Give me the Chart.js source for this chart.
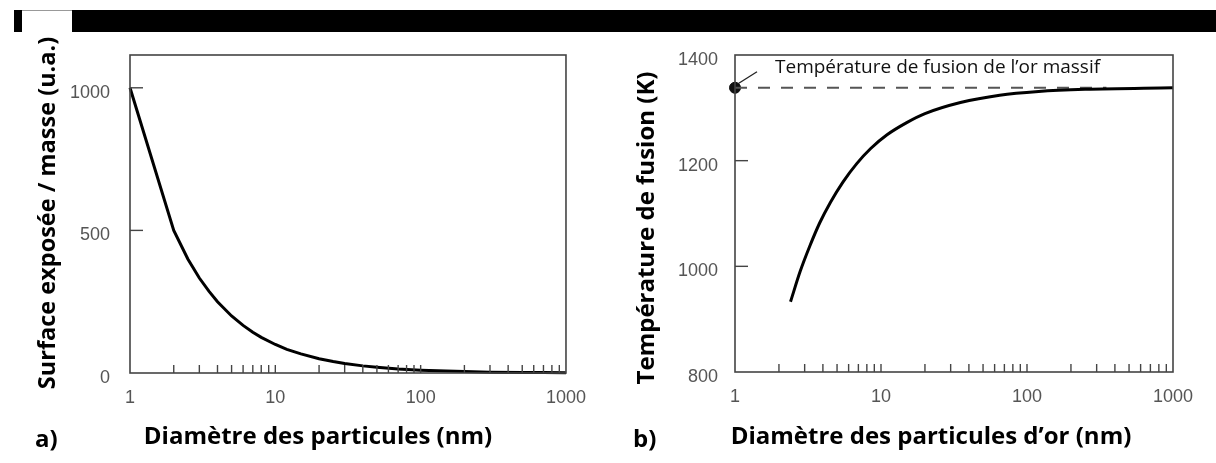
<!DOCTYPE html>
<html><head><meta charset="utf-8">
<script src="https://cdn.jsdelivr.net/npm/chart.js@4"></script>
<style>
html,body{margin:0;padding:0;background:#fff;width:1216px;height:463px;overflow:hidden;position:relative}
#c1{position:absolute;left:0;top:0}
#c2{position:absolute;left:600px;top:0}
.bar{position:absolute;background:#000}
</style></head><body>
<canvas id="c1" width="600" height="463"></canvas>
<canvas id="c2" width="616" height="463"></canvas>
<div class="bar" style="left:14px;top:10px;width:8px;height:22px"></div>
<div style="position:absolute;left:22px;top:10px;width:50px;height:1px;background:#999"></div>
<div class="bar" style="left:72px;top:10px;width:1144px;height:22px"></div>
<script>
// ---- Data: chart a) ----
const diamA = [1, 2, 2.5, 3, 3.5, 4, 5, 6, 7, 8, 10, 12, 15, 20, 25, 30, 40, 50, 70, 100, 150, 200, 300, 500, 700, 1000];
const surfA = [1000, 500, 400, 333, 286, 250, 200, 167, 143, 125, 100, 83, 67, 50, 40, 33, 25, 20, 14, 10, 7, 5, 3, 2, 1.4, 1];
const yTicksA = [0, 500, 1000];

// ---- Data: chart b) ----
const diamB = [2.4, 2.8, 3.25, 3.8, 4.5, 5.5, 6.8, 8.5, 11, 15, 20, 35, 65, 120, 250, 1000];
const tempB = [933, 991, 1038, 1082, 1121, 1160, 1194, 1223, 1249, 1272, 1289, 1310, 1324, 1331, 1335, 1338];
const bulkDiam = [1, 350];
const bulkTemp = [1338, 1338];
const yTicksB = [800, 1000, 1200, 1400];

// ---- shared ----
const xTicks = [1, 10, 100, 1000];
const minorTicks = [2,3,4,5,6,7,8,9,10,20,30,40,50,60,70,80,90,100,200,300,400,500,600,700,800,900];

const tickFont = {family: '"Liberation Sans", Arial, sans-serif', size: 18};
const tickColor = '#555';

function pts(xs, ys){ return xs.map((x,i)=>({x, y: ys[i]})); }

function decorPlugin(opts){
  return {
    id: 'decor',
    afterDatasetsDraw(chart){
      const ctx = chart.ctx, a = chart.chartArea;
      const xs = chart.scales.x, ys = chart.scales.y;
      ctx.save();
      // frame
      ctx.strokeStyle = '#444'; ctx.lineWidth = 1.6;
      ctx.strokeRect(a.left, a.top, a.right - a.left, a.bottom - a.top);
      // inward y ticks
      ctx.lineWidth = 1.4;
      opts.innerY.forEach(v=>{
        const y = ys.getPixelForValue(v);
        ctx.beginPath(); ctx.moveTo(a.left, y); ctx.lineTo(a.left + 13, y); ctx.stroke();
      });
      // minor x ticks
      minorTicks.forEach(v=>{
        const x = xs.getPixelForValue(v);
        ctx.beginPath(); ctx.moveTo(x, a.bottom); ctx.lineTo(x, a.bottom - 8); ctx.stroke();
      });
      // titles
      ctx.fillStyle = '#000';
      ctx.textBaseline = 'middle';
      ctx.textAlign = 'center';
      ctx.save();
      ctx.font = opts.yTitle.font;
      ctx.translate(opts.yTitle.x, opts.yTitle.y);
      ctx.rotate(-Math.PI/2);
      ctx.fillText(opts.yTitle.text, 0, 0);
      ctx.restore();
      ctx.font = 'bold 24px "Open Sans", sans-serif';
      ctx.fillText(opts.xTitle.text, opts.xTitle.x, opts.xTitle.y);
      ctx.textAlign = 'left';
      ctx.fillText(opts.panel.text, opts.panel.x, opts.panel.y);
      if (opts.extra) opts.extra(chart, ctx);
      ctx.restore();
    }
  };
}

function baseScales(xHeight, yWidth, yMin, yMax, yTicks, labelOffset, yPad){
  return {
    x: {
      type: 'logarithmic', min: 1, max: 1000,
      afterBuildTicks: s => { s.ticks = xTicks.map(v=>({value: v})); },
      afterFit: s => { s.height = xHeight; },
      grid: {display: false, drawTicks: false}, border: {display: false},
      ticks: {font: tickFont, color: tickColor, padding: 14, autoSkip: false, maxRotation: 0, callback: v => String(v)}
    },
    y: {
      type: 'linear', min: yMin, max: yMax,
      afterBuildTicks: s => { s.ticks = yTicks.map(v=>({value: v})); },
      afterFit: s => { s.width = yWidth; },
      grid: {display: false, drawTicks: false}, border: {display: false},
      ticks: {font: tickFont, color: tickColor, padding: yPad, labelOffset: labelOffset, autoSkip: false, callback: v => String(v)}
    }
  };
}

new Chart(document.getElementById('c1'), {
  type: 'line',
  data: {datasets: [{
    data: pts(diamA, surfA), borderColor: '#000', borderWidth: 3,
    pointRadius: 0, tension: 0, fill: false, clip: false
  }]},
  options: {
    responsive: false, animation: false, devicePixelRatio: 1,
    layout: {padding: {left: 0, right: 34, top: 55, bottom: 0}},
    plugins: {legend: {display: false}, tooltip: {enabled: false}},
    scales: baseScales(90, 130, 0, 1115, yTicksA, 5, 20)
  },
  plugins: [decorPlugin({
    innerY: [500, 1000],
    yTitle: {text: 'Surface exposée / masse (u.a.)', x: 48, y: 213, font: 'bold 23.5px "Open Sans", sans-serif'},
    xTitle: {text: 'Diamètre des particules (nm)', x: 318, y: 437},
    panel: {text: 'a)', x: 35, y: 440}
  })]
});

new Chart(document.getElementById('c2'), {
  type: 'line',
  data: {datasets: [
    {data: pts(diamB, tempB), borderColor: '#000', borderWidth: 3, pointRadius: 0,
     cubicInterpolationMode: 'monotone', fill: false, clip: false},
    {data: pts(bulkDiam, bulkTemp), borderColor: '#555', borderWidth: 2, borderDash: [12, 11],
     pointRadius: 0, fill: false, clip: false},
    {data: pts([bulkDiam[0]], [bulkTemp[0]]), showLine: false, pointRadius: 5.5,
     pointBackgroundColor: '#111', pointBorderColor: '#111', clip: false}
  ]},
  options: {
    responsive: false, animation: false, devicePixelRatio: 1,
    layout: {padding: {left: 0, right: 43, top: 55, bottom: 0}},
    plugins: {legend: {display: false}, tooltip: {enabled: false}},
    scales: baseScales(91, 135, 800, 1400, yTicksB, 5, 17)
  },
  plugins: [decorPlugin({
    innerY: [1000, 1200],
    yTitle: {text: 'Température de fusion (K)', x: 47, y: 228, font: 'bold 24px "Open Sans", sans-serif'},
    xTitle: {text: 'Diamètre des particules d’or (nm)', x: 331, y: 437},
    panel: {text: 'b)', x: 33, y: 440},
    extra: (chart, ctx) => {
      const x0 = chart.scales.x.getPixelForValue(bulkDiam[0]);
      const y0 = chart.scales.y.getPixelForValue(bulkTemp[0]);
      ctx.strokeStyle = '#222'; ctx.lineWidth = 1.3;
      ctx.beginPath(); ctx.moveTo(x0 + 3, y0 - 4); ctx.lineTo(x0 + 22, y0 - 16); ctx.stroke();
      ctx.font = '19px "Open Sans", sans-serif';
      ctx.fillStyle = '#111';
      ctx.textAlign = 'left'; ctx.textBaseline = 'middle';
      ctx.fillText('Température de fusion de l’or massif', 175, 68);
    }
  })]
});
</script>
</body></html>
